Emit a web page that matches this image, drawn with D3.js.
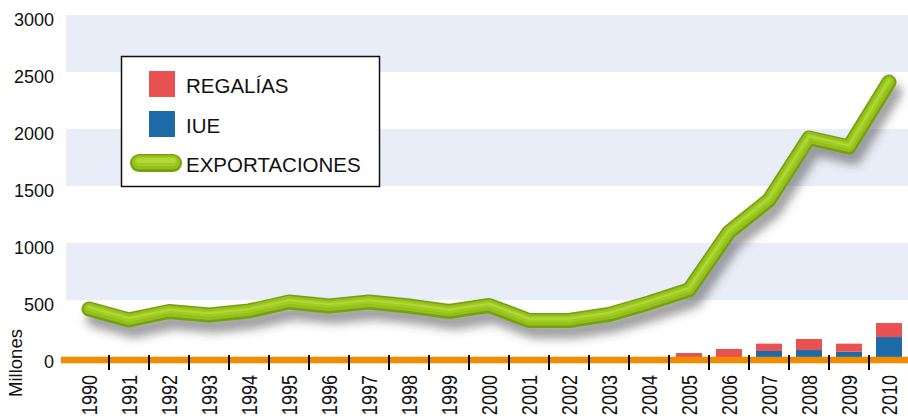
<!DOCTYPE html>
<html>
<head>
<meta charset="utf-8">
<script src="https://cdn.jsdelivr.net/npm/d3@7.9.0/dist/d3.min.js"></script>
<style>
  html, body { margin: 0; padding: 0; background: #fff; }
  svg { display: block; font-family: "Liberation Sans", Arial, sans-serif; }
</style>
</head>
<body>
<svg id="chart" width="908" height="416"></svg>
<script>
// -------------------------
// Data
// -------------------------
const years = ['1990', '1991', '1992', '1993', '1994', '1995', '1996', '1997', '1998', '1999', '2000',
  '2001', '2002', '2003', '2004', '2005', '2006', '2007', '2008', '2009', '2010'];
const exportaciones = [421, 325, 399, 368, 404, 482, 447, 482, 447, 399, 452,
  320, 320, 373, 474, 588, 1096, 1377, 1921, 1842, 2412];
const iue = [0, 0, 0, 0, 0, 0, 0, 0, 0, 0, 0, 0, 0, 0, 0, 0, 0, 53, 61, 46, 175];
const regalias = [0, 0, 0, 0, 0, 0, 0, 0, 0, 0, 0, 0, 0, 0, 0, 35, 70, 64, 97, 71, 123];
const yTicks = [0, 500, 1000, 1500, 2000, 2500, 3000];
const bandPairs = [[500, 1000], [1500, 2000], [2500, 3000]];

// -------------------------
// Scales
// -------------------------
const svg = d3.select('#chart');
const x = d3.scaleBand().domain(years).range([69, 909]);
const y = d3.scaleLinear().domain([0, 3000]).range([357, 15]);
const barW = 26;

// shadow filter for the line
const defs = svg.append('defs');
const f = defs.append('filter').attr('id', 'shadow')
  .attr('x', '-20%').attr('y', '-20%').attr('width', '140%').attr('height', '160%');
f.append('feGaussianBlur').attr('stdDeviation', 5);

// background bands
svg.append('g').selectAll('rect')
  .data(bandPairs)
  .join('rect')
  .attr('x', 66)
  .attr('width', 908 - 66)
  .attr('y', d => y(d[1]))
  .attr('height', d => y(d[0]) - y(d[1]))
  .attr('fill', '#e8edf7');

// y axis labels
svg.append('g').selectAll('text')
  .data(yTicks)
  .join('text')
  .attr('x', 54)
  .attr('y', d => y(d) + 11)
  .attr('text-anchor', 'end')
  .attr('font-size', 18)
  .attr('fill', '#111')
  .text(d => d);

svg.append('text')
  .attr('transform', 'translate(22,363) rotate(-90)')
  .attr('text-anchor', 'middle')
  .attr('font-size', 18.5)
  .attr('fill', '#111')
  .text('Millones');

// stacked bars: IUE at the bottom, REGALÍAS on top
const bars = svg.append('g');
years.forEach((yr, i) => {
  const cx = x(yr) + x.bandwidth() / 2;
  if (iue[i] > 0) {
    bars.append('rect')
      .attr('x', cx - barW / 2).attr('width', barW)
      .attr('y', y(iue[i])).attr('height', y(0) - y(iue[i]) + 2)
      .attr('fill', '#1c6aa8');
  }
  if (regalias[i] > 0) {
    bars.append('rect')
      .attr('x', cx - barW / 2).attr('width', barW)
      .attr('y', y(iue[i] + regalias[i])).attr('height', y(iue[i]) - y(iue[i] + regalias[i]))
      .attr('fill', '#e85252');
  }
});

// zero axis (orange) + ticks
svg.append('line')
  .attr('x1', 61).attr('x2', 908)
  .attr('y1', y(0) + 3).attr('y2', y(0) + 3)
  .attr('stroke', '#f08c00').attr('stroke-width', 6.5);

svg.append('g').selectAll('line')
  .data(years.slice(1))
  .join('line')
  .attr('x1', d => x(d)).attr('x2', d => x(d))
  .attr('y1', 355).attr('y2', 370)
  .attr('stroke', '#000').attr('stroke-width', 2);

// x labels (condensed look)
svg.append('g').selectAll('text')
  .data(years)
  .join('text')
  .attr('transform', d => `translate(${x(d) + x.bandwidth() / 2 + 8},375) rotate(-90) scale(0.82,1)`)
  .attr('text-anchor', 'end')
  .attr('font-size', 22)
  .attr('fill', '#111')
  .text(d => d);

// exportaciones line
const line = d3.line()
  .x((d, i) => x(years[i]) + x.bandwidth() / 2)
  .y(d => y(d));

svg.append('path')
  .attr('d', line(exportaciones))
  .attr('transform', 'translate(5,10)')
  .attr('fill', 'none')
  .attr('stroke', '#444')
  .attr('stroke-opacity', 0.5)
  .attr('stroke-width', 16)
  .attr('stroke-linejoin', 'round')
  .attr('stroke-linecap', 'round')
  .attr('filter', 'url(#shadow)');

const strokes = [[15, '#74a012'], [11, '#92c11a'], [6, '#a2cc22'], [2, '#b3d63c']];
strokes.forEach(([w, c], k) => {
  svg.append('path')
    .attr('d', line(exportaciones))
    .attr('transform', `translate(0,${-k * 0.6})`)
    .attr('fill', 'none')
    .attr('stroke', c)
    .attr('stroke-width', w)
    .attr('stroke-linejoin', 'round')
    .attr('stroke-linecap', 'round');
});

// legend
const legend = svg.append('g');
legend.append('rect')
  .attr('x', 121.5).attr('y', 56.5).attr('width', 258).attr('height', 130)
  .attr('fill', '#fff').attr('stroke', '#111').attr('stroke-width', 1.5);

const legendItems = [
  { label: 'REGALÍAS', color: '#e85252', y: 71 },
  { label: 'IUE', color: '#1c6aa8', y: 111 }
];
legendItems.forEach(d => {
  legend.append('rect')
    .attr('x', 149).attr('y', d.y).attr('width', 26).attr('height', 26)
    .attr('fill', d.color);
  legend.append('text')
    .attr('x', 186).attr('y', d.y + 22)
    .attr('font-size', 20.5).attr('fill', '#111')
    .text(d.label);
});
strokes.forEach(([w, c], k) => {
  legend.append('line')
    .attr('x1', 139).attr('x2', 173)
    .attr('y1', 163 - k * 0.8).attr('y2', 163 - k * 0.8)
    .attr('stroke', c)
    .attr('stroke-width', w + 3)
    .attr('stroke-linecap', 'round');
});
legend.append('text')
  .attr('x', 186).attr('y', 172)
  .attr('font-size', 20.5).attr('fill', '#111')
  .text('EXPORTACIONES');
</script>
</body>
</html>
